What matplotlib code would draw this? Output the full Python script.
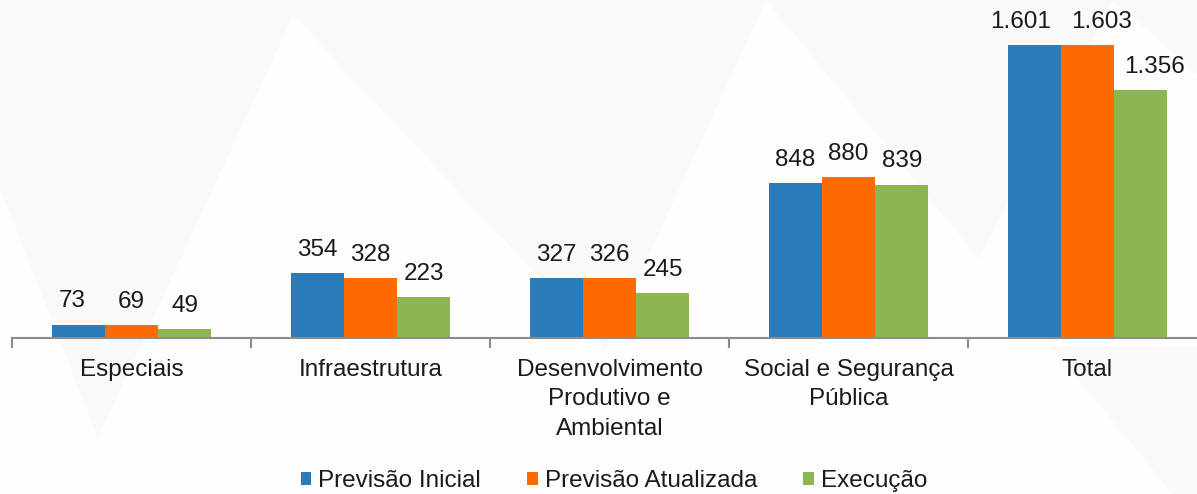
import matplotlib
matplotlib.use("Agg")
import matplotlib.pyplot as plt
from matplotlib.patches import Polygon
import numpy as np

#_____________________________________________________________________________
# data
categorias = ["Especiais", "Infraestrutura", "Desenvolvimento\nProdutivo e\nAmbiental",
              "Social e Segurança\nPública", "Total"]
series = ["Previsão Inicial", "Previsão Atualizada", "Execução"]
prev_inicial = [73, 354, 327, 848, 1601]
prev_atualizada = [69, 328, 326, 880, 1603]
execucao = [49, 223, 245, 839, 1356]

cores = ["#2a7bba", "#fd6a02", "#8cb651"]

#_____________________________________________________________________________
def fmt(v):
    # separador de milhar com ponto
    return "{:,}".format(v).replace(",", ".")

#_____________________________________________________________________________
def main():

    plt.rcParams["font.family"] = ["Liberation Sans", "DejaVu Sans"]
    fs = 17.5

    fig = plt.figure(figsize=(11.97, 4.94), dpi=100)
    fig.patch.set_facecolor("#f9f9f9")

    # faint background triangles
    for pts in [[(0.245, 0.97), (0.06, 0.0), (0.62, 0.0)],
                [(0.64, 1.0), (0.45, 0.0), (0.98, 0.0)],
                [(0.93, 1.0), (0.78, 0.3), (1.0, 0.3), (1.0, 0.85)],
                [(0.0, 0.62), (0.0, 0.0), (0.1, 0.0)]]:
        fig.add_artist(Polygon(pts, closed=True, transform=fig.transFigure,
                               facecolor="white", edgecolor="none", alpha=0.7, zorder=0))

    ax = fig.add_axes([12/1197, 156/494, 1195/1197, 338/494])
    ax.patch.set_alpha(0)

    x = np.arange(len(categorias))
    w = 0.223
    dados = [prev_inicial, prev_atualizada, execucao]
    # small horizontal nudges (points) so the crowded labels do not overlap
    nudge = {(0, 0): -4, (0, 4): -10, (1, 4): 10, (2, 4): 10}
    for i, (nome, vals) in enumerate(zip(series, dados)):
        bars = ax.bar(x + (i - 1)*w, vals, w, color=cores[i], label=nome, zorder=2)
        for j, (b, v) in enumerate(zip(bars, vals)):
            ax.annotate(fmt(v), (b.get_x() + b.get_width()/2, b.get_height()),
                        xytext=(nudge.get((i, j), 0), 9), textcoords="offset points",
                        ha="center", va="bottom", fontsize=fs, color="#1a1a1a")

    ax.set_xlim(-0.5, 4.5)
    ax.set_ylim(0, 1850)

    for s in ["top", "right", "left"]:
        ax.spines[s].set_visible(False)
    ax.spines["bottom"].set_color("#8c8c8c")
    ax.spines["bottom"].set_linewidth(1.5)
    ax.set_yticks([])

    ax.set_xticks(np.arange(-0.5, 5.0, 1.0))
    ax.set_xticklabels([])
    ax.tick_params(axis="x", which="major", length=7, width=1.5, color="#8c8c8c")
    ax.set_xticks(x, minor=True)
    ax.set_xticklabels(categorias, minor=True, fontsize=fs, color="#1a1a1a",
                       linespacing=1.45, va="top")
    ax.tick_params(axis="x", which="minor", length=0, pad=15)

    leg = fig.legend(loc="lower center", bbox_to_anchor=(0.513, -0.04), ncol=3,
                     frameon=False, fontsize=fs, handlelength=0.42, handleheight=0.42,
                     handletextpad=0.3, columnspacing=1.9)
    for t in leg.get_texts():
        t.set_color("#1a1a1a")

    fig.savefig("out.png", dpi=100, facecolor=fig.get_facecolor())

#_____________________________________________________________________________
if __name__ == "__main__":

    main()
